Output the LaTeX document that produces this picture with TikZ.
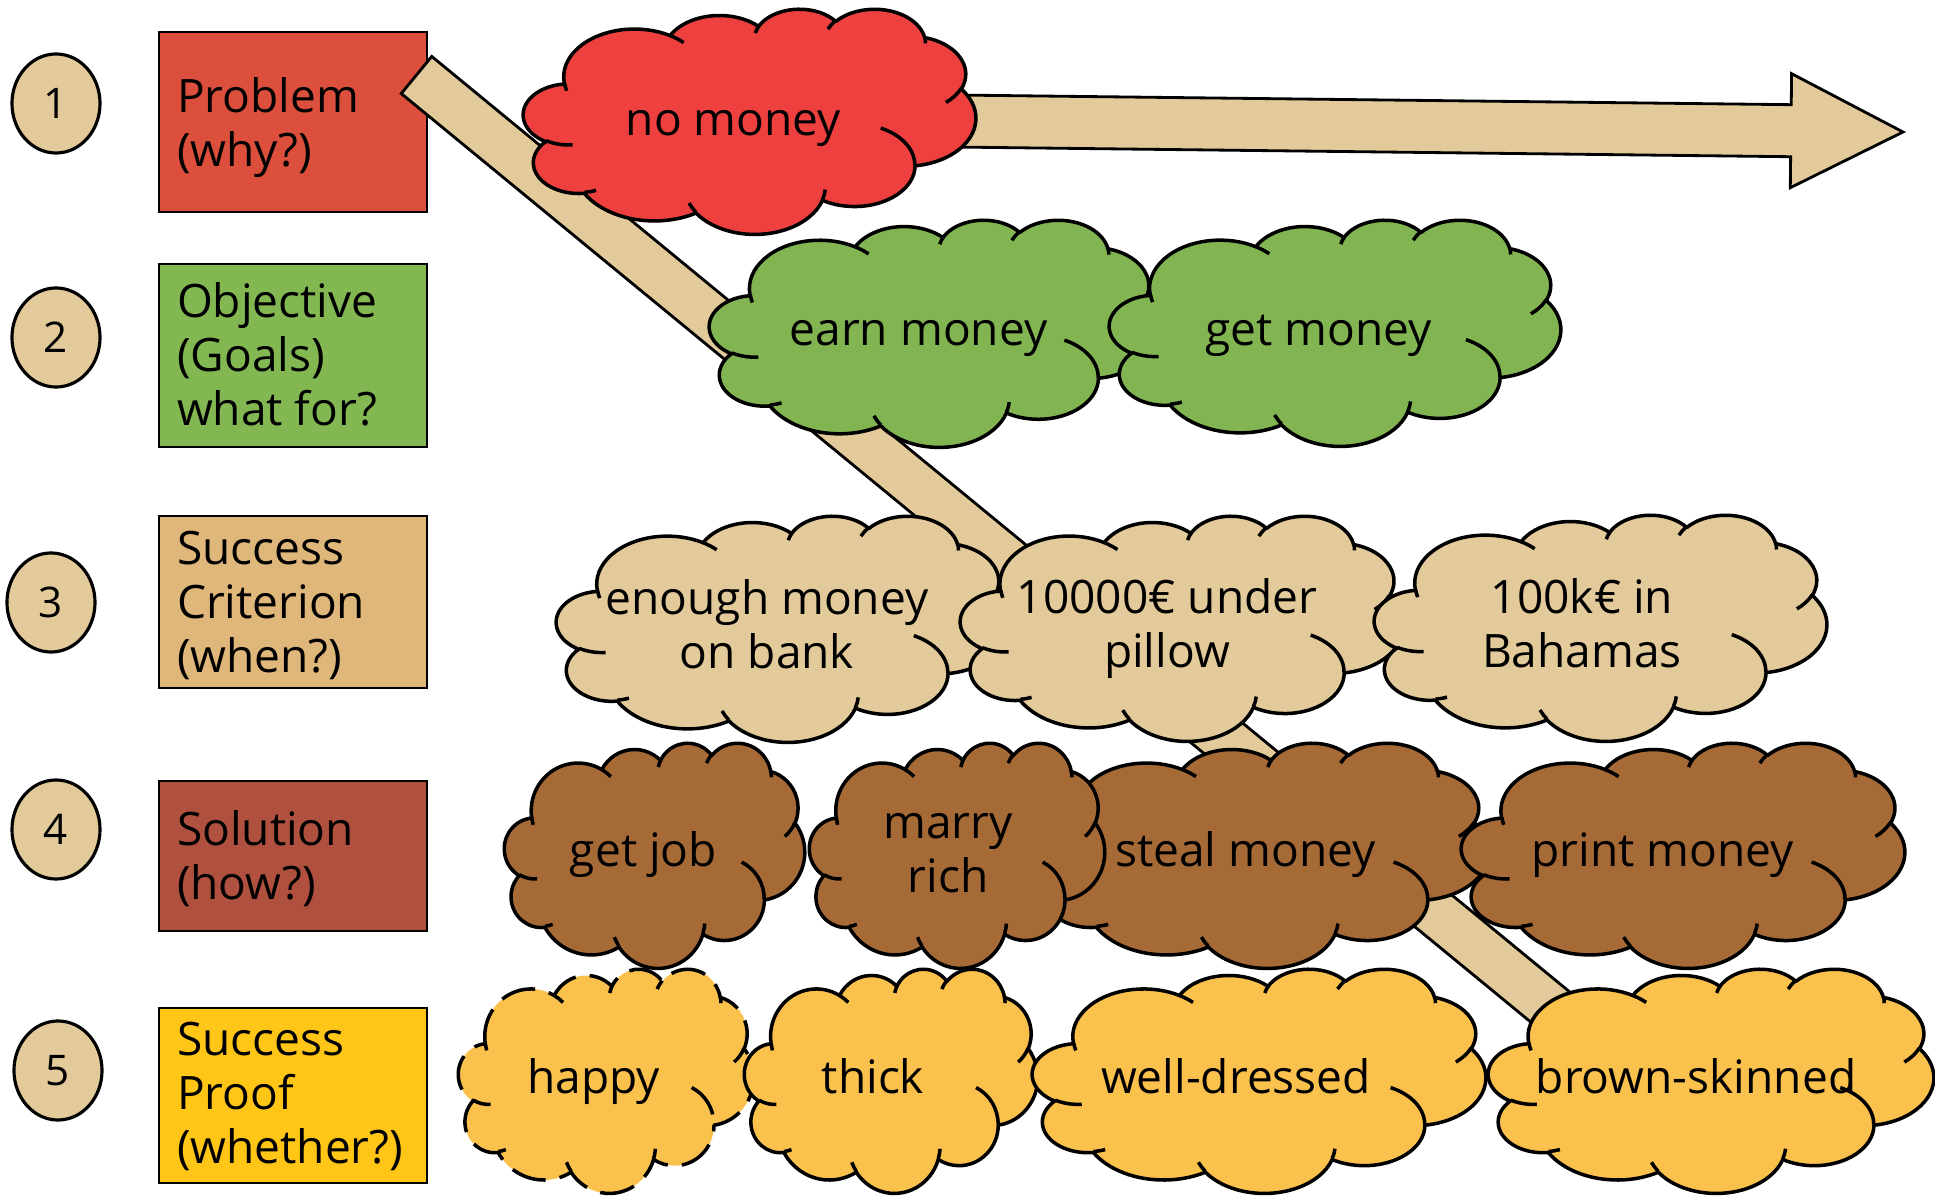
\documentclass[tikz,border=0pt]{standalone}
\usepackage{fontspec}
\setmainfont{Open Sans}
\usetikzlibrary{calc,shapes.geometric}

\definecolor{probRed}{RGB}{219,79,60}
\definecolor{objGreen}{RGB}{131,183,82}
\definecolor{critTan}{RGB}{224,183,122}
\definecolor{solBrown}{RGB}{176,81,64}
\definecolor{proofYellow}{RGB}{255,198,24}
\definecolor{beige}{RGB}{227,202,154}
\definecolor{cloudRed}{RGB}{239,64,64}
\definecolor{cloudGreen}{RGB}{130,181,82}
\definecolor{cloudBrown}{RGB}{166,106,55}
\definecolor{cloudYellow}{RGB}{250,193,76}

% Cloud outline: eleven elliptic bumps on a 43.2 x 43.2 grid (y grows downwards)
% and eleven short inner strokes. Angles are polar angles; they are turned into
% the parametric angles that TikZ elliptic arcs use.
\newcommand\CldOuter{}
\newcommand\CldInner{}
\newcommand\CldAngles[4]{%
  \pgfmathsetmacro\CldTa{atan2((#1)*sin(#3),(#2)*cos(#3))}%
  \pgfmathsetmacro\CldTb{atan2((#1)*sin((#3)+(#4)),(#2)*cos((#3)+(#4)))}%
  \pgfmathsetmacro\CldTb{(\CldTb<\CldTa) ? (\CldTb+360) : \CldTb}%
}
\newcommand\CldOuterArc[4]{%
  \CldAngles{#1}{#2}{#3}{#4}%
  \xdef\CldOuter{\unexpanded\expandafter{\CldOuter} arc[x radius=#1, y radius=#2, start angle=\CldTa, end angle=\CldTb]}%
}
\newcommand\CldInnerArc[6]{%
  \CldAngles{#3}{#4}{#5}{#6}%
  \xdef\CldInner{\unexpanded\expandafter{\CldInner} (#1,#2) arc[x radius=#3, y radius=#4, start angle=\CldTa, end angle=\CldTb]}%
}
\CldOuterArc{6.753}{9.190}{-190.4875}{123.7805}
\CldOuterArc{5.333}{7.267}{-144.1024}{89.9452}
\CldOuterArc{4.365}{5.945}{-145.8079}{99.7230}
\CldOuterArc{4.857}{6.595}{-130.9861}{117.2417}
\CldOuterArc{5.333}{7.273}{-78.7089}{109.0269}
\CldOuterArc{6.775}{9.220}{-46.2673}{130.2690}
\CldOuterArc{5.785}{7.867}{0.6250}{114.0333}
\CldOuterArc{6.752}{9.215}{22.4516}{115.1726}
\CldOuterArc{7.720}{10.543}{66.2426}{75.7110}
\CldOuterArc{4.360}{5.918}{-274.9421}{146.7356}
\CldOuterArc{4.345}{5.945}{-246.8285}{152.5189}
\CldInnerArc{4.693}{26.177}{4.345}{5.945}{86.7420}{26.4295}
\CldInnerArc{6.928}{34.899}{4.360}{5.918}{73.6105}{11.4475}
\CldInnerArc{16.478}{39.090}{6.752}{9.215}{137.6242}{14.0811}
\CldInnerArc{28.827}{34.751}{6.752}{9.215}{6.4533}{15.9984}
\CldInnerArc{34.129}{22.954}{5.785}{7.867}{-70.2924}{70.9174}
\CldInnerArc{41.798}{15.354}{5.333}{7.273}{30.3180}{27.7515}
\CldInnerArc{38.324}{5.426}{4.857}{6.595}{-13.7443}{14.8589}
\CldInnerArc{29.078}{3.952}{4.857}{6.595}{-149.1815}{18.1954}
\CldInnerArc{22.141}{4.720}{4.365}{5.945}{-163.4943}{17.6864}
\CldInnerArc{14.000}{5.192}{6.753}{9.190}{-66.7070}{12.3194}
\CldInnerArc{4.127}{15.789}{6.753}{9.190}{159.6296}{11.8665}

% #1 name, #2 left, #3 top, #4 width, #5 height, #6 fill, #7 extra line style
\newcommand\cloudshape[7]{%
  \pgfmathsetmacro\CldXu{(#4-3)/4320}%
  \pgfmathsetmacro\CldYu{(#5-3)/4320}%
  \begin{scope}[shift={(#2+1.5,#3+1.5)}, x=\CldXu cm, y=-\CldYu cm]
    \coordinate (#1) at (21.6,21.6);
    \filldraw[cloudline, fill=#6, #7] (3.9,14.37) \CldOuter -- cycle;
    \draw[cloudline, #7] \CldInner;
  \end{scope}}

\newcommand\StrutTop{\rule{0pt}{0.42cm}}

\begin{document}
\begin{tikzpicture}[x=0.01cm, y=-0.01cm,
  numcirc/.style={ellipse, draw, line width=0.9pt, fill=beige,
    minimum width=0.88cm, minimum height=0.99cm, inner sep=0,
    font=\fontsize{12pt}{14pt}\selectfont},
  catbox/.style={rectangle, draw, line width=0.7pt, minimum width=2.68cm, inner sep=0},
  boxtext/.style={anchor=north west, inner sep=0, outer sep=0, align=left,
    font=\fontsize{13.1pt}{0.54cm}\selectfont},
  cloudtext/.style={anchor=north, inner sep=0, outer sep=0, align=center,
    font=\fontsize{13.1pt}{0.54cm}\selectfont},
  cloudline/.style={draw=black, line width=1.0pt, line join=round},
  bandstyle/.style={draw=black, line width=0.8pt, fill=beige, line join=miter},
  dashcloud/.style={dash pattern=on 10pt off 4pt}]

\useasboundingbox (0,0) rectangle (1935,1197);
\fill[white] (0,0) rectangle (1935,1197);

% numbered steps
\node[numcirc] (n1) at (56,103.5) {1};
\node[numcirc] (n2) at (56,337.5) {2};
\node[numcirc] (n3) at (51,602.5) {3};
\node[numcirc] (n4) at (56,829.5) {4};
\node[numcirc] (n5) at (58,1070.5) {5};

% category boxes
\node[catbox, fill=probRed,     minimum height=1.80cm] (b1) at (293,122) {};
\node[catbox, fill=objGreen,    minimum height=1.83cm] (b2) at (293,355.5) {};
\node[catbox, fill=critTan,     minimum height=1.72cm] (b3) at (293,602) {};
\node[catbox, fill=solBrown,    minimum height=1.50cm] (b4) at (293,856) {};
\node[catbox, fill=proofYellow, minimum height=1.75cm] (b5) at (293,1095.5) {};

\node[boxtext] (t1) at (177,70)   {\StrutTop Problem\\(why?)};
\node[boxtext] (t2) at (177,275)  {\StrutTop Objective\\(Goals)\\what for?};
\node[boxtext] (t3) at (177,522)  {\StrutTop Success\\Criterion\\(when?)};
\node[boxtext] (t4) at (177,803)  {\StrutTop Solution\\(how?)};
\node[boxtext] (t5) at (177,1013) {\StrutTop Success\\Proof\\(whether?)};

% diagonal band from the problem box down to the last row
\coordinate (bandA) at (416.5,75);
\coordinate (bandB) at (1650,1089);
\draw[bandstyle] ($(bandA)!0.24cm!90:(bandB)$) -- ($(bandB)!0.24cm!-90:(bandA)$)
  -- ($(bandB)!0.24cm!90:(bandA)$) -- ($(bandA)!0.24cm!-90:(bandB)$) -- cycle;

% block arrow to the right
\coordinate (arrS) at (780,119);
\coordinate (arrT) at (1903,132);
\coordinate (arrH) at ($(arrT)!1.12cm!(arrS)$);
\draw[bandstyle] ($(arrS)!0.26cm!90:(arrT)$) -- ($(arrH)!0.26cm!90:(arrT)$)
  -- ($(arrH)!0.57cm!90:(arrT)$) -- (arrT) -- ($(arrH)!0.57cm!-90:(arrT)$)
  -- ($(arrH)!0.26cm!-90:(arrT)$) -- ($(arrS)!0.26cm!-90:(arrT)$) -- cycle;

% clouds
\cloudshape{cNoMoney}{522}{7}{455}{228}{cloudRed}{}
\cloudshape{cEarn}{708}{218}{452}{230}{cloudGreen}{}
\cloudshape{cGet}{1108}{218}{454}{229}{cloudGreen}{}
\cloudshape{cEnough}{555}{514}{455}{229}{beige}{}
\cloudshape{cPillow}{959}{514}{446}{228}{beige}{}
\cloudshape{cBahamas}{1373}{513}{455}{229}{beige}{}
\cloudshape{cJob}{503}{741}{303}{228}{cloudBrown}{}
\cloudshape{cSteal}{1034}{741}{456}{228}{cloudBrown}{}
\cloudshape{cMarry}{808}{741}{298}{228}{cloudBrown}{}
\cloudshape{cPrint}{1460}{741}{446}{228}{cloudBrown}{}
\cloudshape{cHappy}{457}{967}{298}{227}{cloudYellow}{dashcloud}
\cloudshape{cThick}{743}{967}{296}{227}{cloudYellow}{}
\cloudshape{cDressed}{1031}{967}{456}{227}{cloudYellow}{}
\cloudshape{cSkin}{1487}{967}{448}{227}{cloudYellow}{}

% cloud labels
\node[cloudtext] (lNoMoney) at (733.5,93)  {\StrutTop no money};
\node[cloudtext] (lEarn)    at (918.5,303) {\StrutTop earn money};
\node[cloudtext] (lGet)     at (1318.5,303) {\StrutTop get money};
\node[cloudtext] (lEnough)  at (767,572)   {\StrutTop enough money\\on bank};
\node[cloudtext] (lPillow)  at (1167,571)  {\StrutTop 10000€ under\\pillow};
\node[cloudtext] (lBahamas) at (1582,571)  {\StrutTop 100k€ in\\Bahamas};
\node[cloudtext] (lJob)     at (643.5,824) {\StrutTop get job};
\node[cloudtext] (lMarry)   at (948,796)   {\StrutTop marry\\rich};
\node[cloudtext] (lSteal)   at (1245.5,824) {\StrutTop steal money};
\node[cloudtext] (lPrint)   at (1662.5,824) {\StrutTop print money};
\node[cloudtext] (lHappy)   at (593.5,1051) {\StrutTop happy};
\node[cloudtext] (lThick)   at (873,1051)  {\StrutTop thick};
\node[cloudtext] (lDressed) at (1236,1051) {\StrutTop well-dressed};
\node[cloudtext] (lSkin)    at (1696,1051) {\StrutTop brown-skinned};
\end{tikzpicture}
\end{document}
